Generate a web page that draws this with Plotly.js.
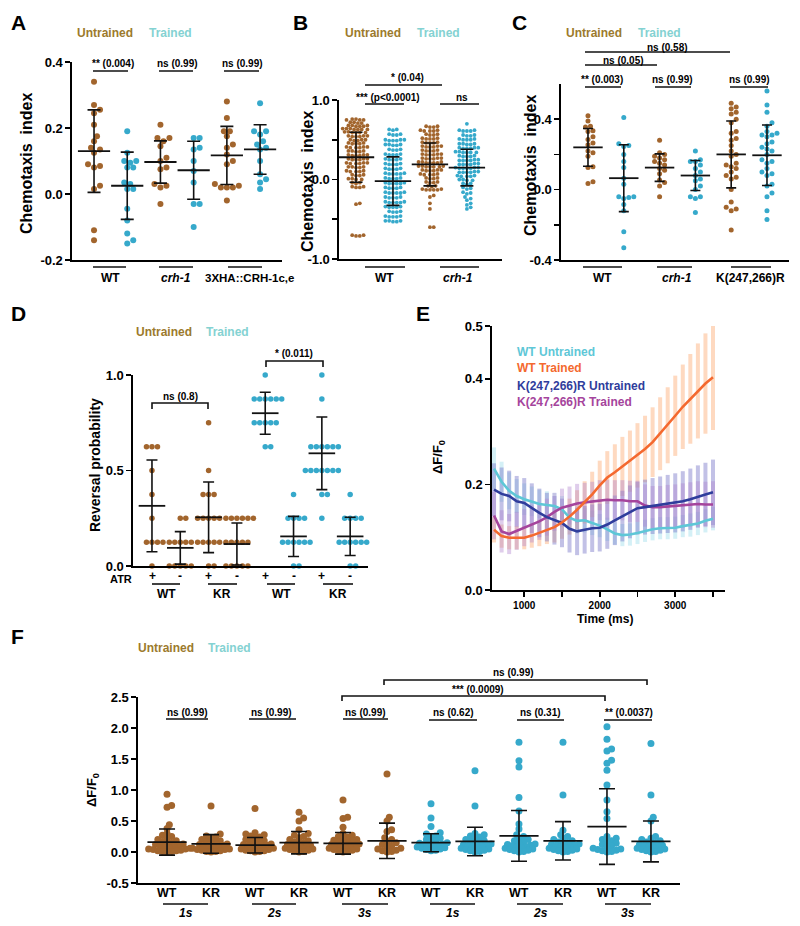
<!DOCTYPE html>
<html><head><meta charset="utf-8">
<script src="https://cdn.plot.ly/plotly-3.0.1.min.js"></script>
<style>html,body{margin:0;padding:0;background:#fff}#chart{width:800px;height:926px}</style>
</head><body><div id="chart"></div>
<script>
// ---------------- DATA ----------------
// Panel A: chemotaxis index
const A_labels = ['WT', 'crh-1', '3XHA::CRH-1c,e'];
const A_WT_U = [0.34,0.27,0.255,0.245,0.21,0.175,0.16,0.14,0.135,0.125,0.09,0.085,0.08,0.025,0.015,-0.11,-0.14];
const A_WT_T = [0.19,0.125,0.10,0.10,0.095,0.08,0.08,0.035,0.03,0.015,0.015,-0.045,-0.08,-0.12,-0.14,-0.15];
const A_CRH_U = [0.21,0.17,0.17,0.16,0.145,0.11,0.10,0.08,0.075,0.03,0.025,0.02,-0.03];
const A_CRH_T = [0.17,0.17,0.14,0.135,0.10,0.07,0.035,-0.03,-0.03,-0.10];
const A_3X_U = [0.28,0.23,0.19,0.19,0.175,0.15,0.14,0.12,0.10,0.09,0.03,0.025,0.02,0.02,0.02,-0.02];
const A_3X_T = [0.275,0.19,0.19,0.18,0.16,0.15,0.14,0.135,0.10,0.06,0.045,0.035,0.015];
const A_mean = [0.13,0.025,0.097,0.072,0.117,0.135];
const A_sd = [0.125,0.102,0.064,0.088,0.088,0.075];

// Panel B
const B_labels = ['WT', 'crh-1'];
const B_WT_U = [0.76,0.76,0.75,0.75,0.75,0.72,0.72,0.71,0.71,0.68,0.68,0.68,0.67,0.67,0.67,0.64,0.64,0.64,0.63,0.63,0.63,0.63,0.60,0.60,0.59,0.59,0.59,0.59,0.55,0.55,0.55,0.54,0.54,0.54,0.50,0.50,0.50,0.49,0.49,0.46,0.46,0.45,0.45,0.45,0.41,0.41,0.41,0.40,0.40,0.40,0.36,0.36,0.36,0.35,0.35,0.31,0.31,0.31,0.30,0.30,0.30,0.26,0.26,0.26,0.25,0.25,0.25,0.21,0.21,0.21,0.20,0.20,0.20,0.16,0.16,0.16,0.15,0.15,0.11,0.11,0.10,0.10,0.10,0.06,0.06,0.05,0.05,0.01,0.01,0.00,0.00,-0.04,-0.04,-0.05,-0.09,-0.09,-0.10,-0.10,-0.30,-0.31,-0.70,-0.70,-0.71,-0.71];
const B_WT_T = [0.63,0.63,0.62,0.57,0.57,0.56,0.56,0.50,0.50,0.50,0.49,0.49,0.49,0.44,0.44,0.44,0.43,0.43,0.38,0.38,0.37,0.37,0.32,0.32,0.31,0.31,0.31,0.26,0.26,0.25,0.25,0.25,0.20,0.20,0.19,0.19,0.19,0.14,0.14,0.13,0.13,0.13,0.08,0.08,0.07,0.07,0.07,0.07,0.02,0.02,0.01,0.01,0.01,-0.04,-0.04,-0.05,-0.05,-0.05,-0.05,-0.10,-0.10,-0.11,-0.11,-0.11,-0.16,-0.16,-0.17,-0.17,-0.17,-0.17,-0.22,-0.22,-0.23,-0.23,-0.23,-0.28,-0.28,-0.29,-0.29,-0.29,-0.29,-0.34,-0.34,-0.35,-0.35,-0.35,-0.40,-0.40,-0.41,-0.41,-0.46,-0.46,-0.47,-0.47,-0.47,-0.52,-0.52,-0.52,-0.53,-0.53];
const B_CRH_U = [0.67,0.67,0.66,0.66,0.62,0.62,0.61,0.61,0.61,0.57,0.57,0.56,0.56,0.52,0.52,0.51,0.51,0.51,0.47,0.47,0.46,0.46,0.46,0.42,0.42,0.42,0.41,0.41,0.41,0.37,0.37,0.36,0.36,0.36,0.32,0.32,0.32,0.31,0.31,0.31,0.27,0.27,0.27,0.26,0.26,0.26,0.22,0.22,0.22,0.21,0.21,0.21,0.21,0.17,0.17,0.17,0.16,0.16,0.16,0.16,0.12,0.12,0.12,0.11,0.11,0.11,0.07,0.07,0.06,0.06,0.06,0.02,0.02,0.01,0.01,-0.03,-0.03,-0.04,-0.04,-0.08,-0.08,-0.09,-0.12,-0.12,-0.13,-0.13,-0.13,-0.13,-0.20,-0.22,-0.30,-0.37,-0.60,-0.60];
const B_CRH_T = [0.70,0.62,0.62,0.61,0.61,0.61,0.56,0.56,0.55,0.55,0.51,0.51,0.50,0.50,0.50,0.45,0.45,0.45,0.44,0.44,0.40,0.40,0.40,0.39,0.39,0.39,0.35,0.35,0.34,0.34,0.34,0.34,0.30,0.30,0.29,0.29,0.29,0.25,0.25,0.24,0.24,0.24,0.24,0.20,0.20,0.19,0.19,0.19,0.19,0.15,0.15,0.15,0.14,0.14,0.14,0.14,0.10,0.10,0.09,0.09,0.09,0.09,0.05,0.05,0.04,0.04,0.04,0.00,0.00,-0.01,-0.01,-0.05,-0.05,-0.06,-0.10,-0.11,-0.12,-0.16,-0.17,-0.18,-0.22,-0.24,-0.26,-0.30,-0.32,-0.35,-0.37];
const B_mean = [0.28,-0.02,0.19,0.15];
const B_sd = [0.315,0.305,0.27,0.23];

// Panel C
const C_labels = ['WT', 'crh-1', 'K(247,266)R'];
const C_WT_U = [0.42,0.39,0.36,0.355,0.335,0.33,0.30,0.285,0.265,0.255,0.22,0.21,0.19,0.13,0.125,0.045,0.035];
const C_WT_T = [0.41,0.26,0.25,0.245,0.20,0.16,0.125,0.065,0.03,-0.04,-0.04,-0.045,-0.05,-0.085,-0.12,-0.24,-0.33];
const C_CRH_U = [0.28,0.21,0.20,0.19,0.18,0.17,0.16,0.15,0.14,0.12,0.11,0.09,0.055,0.04,0.02,-0.04];
const C_CRH_T = [0.22,0.17,0.16,0.16,0.14,0.12,0.10,0.08,0.06,0.05,0.02,0.00,-0.04,-0.04,-0.05,-0.13];
const C_K_U = [0.49,0.47,0.46,0.44,0.43,0.40,0.38,0.33,0.32,0.29,0.28,0.25,0.22,0.20,0.19,0.15,0.14,0.13,0.12,0.10,0.08,0.07,0.06,0.00,-0.07,-0.10,-0.11,-0.12,-0.23];
const C_K_T = [0.56,0.48,0.44,0.38,0.36,0.33,0.32,0.31,0.31,0.30,0.27,0.26,0.24,0.23,0.22,0.20,0.17,0.16,0.15,0.12,0.10,0.09,0.08,0.03,0.02,-0.02,-0.04,-0.12,-0.17];
const C_mean = [0.24,0.065,0.125,0.08,0.2,0.195];
const C_sd = [0.107,0.19,0.078,0.085,0.19,0.172];

// Panel D: reversal probability
const D_atr = ['+','-','+','-','+','-','+','-'];
const D_labels = ['WT','KR','WT','KR'];
const D_G1 = [0.625,0.625,0.625,0.5,0.375,0.25,0.125,0.125,0.125,0.125,0];
const D_G2 = [0.25,0.25,0.125,0.125,0.125,0.125,0.125,0,0,0,0,0];
const D_G3 = [0.75,0.5,0.375,0.375,0.375,0.25,0.25,0.25,0.25,0.25,0.125,0.125,0.125,0.125,0.125,0,0];
const D_G4 = [0.25,0.25,0.25,0.25,0.25,0.25,0.125,0.125,0.125,0.125,0.125,0,0,0,0,0];
const D_G5 = [1.0,0.875,0.875,0.875,0.875,0.875,0.875,0.75,0.75,0.75,0.75,0.75,0.625,0.625];
const D_G6 = [0.375,0.25,0.25,0.25,0.25,0.125,0.125,0.125,0.125,0.125,0.125,0,0];
const D_G7 = [1.0,0.875,0.625,0.625,0.625,0.625,0.625,0.625,0.5,0.5,0.5,0.5,0.5,0.5,0.5,0.375,0.375,0.25];
const D_G8 = [0.375,0.25,0.25,0.25,0.25,0.125,0.125,0.125,0.125,0.125,0.125,0,0];
const D_mean = [0.315,0.095,0.255,0.115,0.80,0.155,0.59,0.155];
const D_sd = [0.24,0.085,0.185,0.11,0.11,0.105,0.19,0.10];

// Panel E: dF/F0 time course
const E_time = [600,700,800,900,1000,1100,1200,1300,1400,1500,1600,1700,1800,1900,2000,2100,2200,2300,2400,2500,2600,2700,2800,2900,3000,3100,3200,3300,3400,3500];
const E_WT_U = [0.230,0.205,0.188,0.178,0.172,0.168,0.163,0.161,0.159,0.153,0.137,0.131,0.132,0.127,0.122,0.115,0.107,0.104,0.105,0.108,0.112,0.115,0.117,0.117,0.118,0.121,0.123,0.126,0.131,0.135];
const E_WT_T = [0.114,0.102,0.099,0.099,0.099,0.103,0.108,0.114,0.119,0.128,0.139,0.152,0.166,0.181,0.198,0.213,0.223,0.234,0.244,0.255,0.267,0.280,0.296,0.312,0.330,0.347,0.362,0.377,0.391,0.403];
const E_K_U = [0.190,0.182,0.178,0.168,0.165,0.155,0.146,0.138,0.132,0.127,0.116,0.111,0.114,0.117,0.118,0.124,0.132,0.140,0.148,0.155,0.157,0.159,0.161,0.163,0.165,0.168,0.172,0.177,0.181,0.185];
const E_K_T = [0.141,0.111,0.106,0.112,0.118,0.125,0.130,0.138,0.148,0.156,0.160,0.164,0.166,0.168,0.170,0.171,0.170,0.170,0.168,0.168,0.160,0.157,0.157,0.158,0.159,0.160,0.162,0.163,0.162,0.162];
const E_WT_U_err = [0.040,0.038,0.035,0.032,0.030,0.028,0.027,0.026,0.025,0.025,0.024,0.024,0.023,0.023,0.022,0.022,0.021,0.021,0.021,0.021,0.021,0.021,0.021,0.021,0.021,0.021,0.022,0.022,0.022,0.022];
const E_WT_T_err = [0.024,0.022,0.022,0.022,0.022,0.023,0.025,0.027,0.029,0.031,0.034,0.037,0.040,0.043,0.047,0.050,0.053,0.056,0.058,0.061,0.063,0.066,0.069,0.072,0.076,0.080,0.085,0.090,0.095,0.100];
const E_K_U_err = [0.050,0.050,0.048,0.048,0.047,0.047,0.046,0.046,0.046,0.046,0.045,0.045,0.045,0.045,0.045,0.046,0.047,0.048,0.050,0.050,0.052,0.053,0.054,0.055,0.056,0.057,0.058,0.059,0.060,0.062];
const E_K_T_err = [0.045,0.040,0.038,0.036,0.035,0.035,0.035,0.035,0.036,0.036,0.036,0.037,0.037,0.037,0.038,0.038,0.038,0.038,0.039,0.039,0.040,0.040,0.040,0.041,0.041,0.042,0.042,0.043,0.043,0.044];
const E_names = ['WT Untrained','WT Trained','K(247,266)R Untrained','K(247,266)R Trained'];

// Panel F: dF/F0 per stimulus duration
const F_geno = ['WT','KR','WT','KR','WT','KR','WT','KR','WT','KR','WT','KR'];
const F_dur = ['1s','2s','3s','1s','2s','3s'];
const F_U_WT1 = [0.93,0.75,0.72,0.44,0.38,0.30,0.27,0.25,0.22,0.20,0.18,0.17,0.15,0.14,0.13,0.12,0.11,0.10,0.09,0.08,0.07,0.06,0.05,0.05,0.04,0.03,0.02,0.02,0.01,0.01,0.00];
const F_U_KR1 = [0.74,0.29,0.26,0.24,0.22,0.20,0.18,0.16,0.15,0.14,0.13,0.12,0.11,0.10,0.09,0.08,0.07,0.06,0.05,0.04,0.04,0.03,0.02,0.01,0.01,0.00];
const F_U_WT2 = [0.70,0.31,0.29,0.28,0.26,0.24,0.22,0.20,0.18,0.16,0.15,0.14,0.13,0.12,0.11,0.10,0.09,0.08,0.07,0.06,0.05,0.04,0.03,0.02,0.02,0.01,0.00];
const F_U_KR2 = [0.64,0.55,0.50,0.36,0.30,0.27,0.25,0.23,0.20,0.18,0.16,0.15,0.14,0.12,0.11,0.10,0.09,0.08,0.07,0.06,0.05,0.04,0.03,0.02,0.01,0.00];
const F_U_WT3 = [0.84,0.56,0.54,0.40,0.30,0.27,0.25,0.24,0.22,0.20,0.19,0.18,0.16,0.15,0.14,0.13,0.12,0.11,0.10,0.09,0.08,0.07,0.06,0.05,0.04,0.03,0.02,0.01,0.00];
const F_U_KR3 = [1.26,0.56,0.50,0.36,0.33,0.23,0.20,0.17,0.15,0.12,0.10,0.08,0.06,0.05,0.03,0.02,0.01,0.00];
const F_T_WT1 = [0.78,0.55,0.41,0.31,0.29,0.26,0.24,0.22,0.20,0.18,0.16,0.15,0.14,0.13,0.12,0.11,0.10,0.09,0.08,0.07,0.06,0.05,0.04,0.03,0.02];
const F_T_KR1 = [1.31,0.74,0.30,0.28,0.26,0.24,0.22,0.20,0.18,0.16,0.15,0.14,0.13,0.12,0.11,0.10,0.09,0.08,0.07,0.06,0.05,0.04,0.03,0.02,0.01,0.00];
const F_T_WT2 = [1.77,1.47,1.37,0.88,0.66,0.45,0.37,0.28,0.25,0.22,0.20,0.18,0.16,0.14,0.13,0.12,0.11,0.10,0.09,0.08,0.07,0.06,0.05,0.04,0.03,0.02,0.01,0.00];
const F_T_KR2 = [1.77,0.92,0.35,0.28,0.25,0.22,0.20,0.18,0.16,0.15,0.14,0.13,0.12,0.11,0.10,0.09,0.08,0.07,0.06,0.05,0.04,0.03,0.02,0.01,0.00];
const F_T_WT3 = [2.02,1.82,1.66,1.63,1.48,1.43,1.32,1.08,0.84,0.65,0.54,0.25,0.22,0.20,0.18,0.16,0.14,0.12,0.10,0.08,0.06,0.05,0.04,0.03,0.02,0.01,0.00];
const F_T_KR3 = [1.75,0.92,0.56,0.50,0.25,0.22,0.20,0.18,0.16,0.15,0.14,0.12,0.11,0.10,0.09,0.08,0.07,0.06,0.05,0.04,0.03,0.02,0.01,0.00];
const F_mean = [0.16,0.13,0.11,0.15,0.14,0.18,0.15,0.17,0.26,0.18,0.41,0.17];
const F_sd = [0.21,0.15,0.125,0.18,0.175,0.285,0.145,0.23,0.41,0.31,0.61,0.33];

// ---------------- STYLE / LAYOUT ----------------
const W = 800, H = 926;
const FONT = 'Arial, "Liberation Sans", Helvetica, sans-serif';
const BROWN = '#a2652d', BLUE = '#36a9cb';
const LEG_U = '#9c7a2d', LEG_T = '#84d2d2';
const px = x => x / W, py = y => 1 - y / H;

// panel boxes in pixels
const P = {
  A: {n: '',  x0: 72,  x1: 282, y0: 62,  y1: 260, xr: [-0.663, 5.66], yr: [-0.2, 0.4]},
  B: {n: '2', x0: 339, x1: 502, y0: 100, y1: 259, xr: [-0.46, 3.95], yr: [-1, 1]},
  C: {n: '3', x0: 561, x1: 789, y0: 84,  y1: 260, xr: [-0.754, 5.615], yr: [-0.4, 0.6]},
  D: {n: '4', x0: 133, x1: 368, y0: 375, y1: 566, xr: [-0.67, 7.63], yr: [0, 1]},
  E: {n: '5', x0: 492, x1: 725, y0: 326, y1: 590, xr: [573, 3659], yr: [0, 0.5]},
  F: {n: '6', x0: 138, x1: 680, y0: 697, y1: 883, xr: [-0.66, 11.66], yr: [-0.5, 2.5]}
};

// beeswarm offsets (pixels); 'coll' is the collision distance in px
function swarmOffsets(vals, coll, yppu) {
  const idx = vals.map((v, i) => i).sort((a, b) => vals[a] - vals[b]);
  const placed = []; const off = new Array(vals.length).fill(0);
  const step = coll * 0.5;
  idx.forEach(i => {
    const yp = vals[i] * yppu;
    const near = placed.filter(p => Math.abs(p.y - yp) < coll);
    let best = 0;
    for (let n = 0; n < 400; n++) {
      const cand = n === 0 ? 0 : (n % 2 === 1 ? Math.ceil(n / 2) * step : -Math.ceil(n / 2) * step);
      let ok = true;
      for (const p of near) { const dx = p.x - cand, dy = p.y - yp; if (dx * dx + dy * dy < coll * coll * 0.9) { ok = false; break; } }
      if (ok) { best = cand; break; }
    }
    placed.push({x: best, y: yp}); off[i] = best;
  });
  return off;
}

const traces = [];
function dotPanel(p, groups, colors, means, sds, diam, coll, meanLen, capW) {
  const xppu = (p.x1 - p.x0) / (p.xr[1] - p.xr[0]);
  const yppu = (p.y1 - p.y0) / (p.yr[1] - p.yr[0]);
  const xs = [], ys = [], cs = [];
  groups.forEach((vals, gi) => {
    const offs = swarmOffsets(vals, coll, yppu);
    vals.forEach((v, j) => { xs.push(gi + offs[j] / xppu); ys.push(v); cs.push(colors[gi]); });
  });
  traces.push({type: 'scatter', mode: 'markers', x: xs, y: ys, xaxis: 'x' + p.n, yaxis: 'y' + p.n,
    marker: {color: cs, size: diam, line: {width: 0}}, cliponaxis: false, hoverinfo: 'skip'});
  traces.push({type: 'scatter', mode: 'markers', x: means.map((m, i) => i), y: means, xaxis: 'x' + p.n, yaxis: 'y' + p.n,
    error_y: {type: 'data', array: sds, color: '#111', thickness: 1.6, width: capW},
    marker: {symbol: 'line-ew', size: meanLen, color: '#111', line: {color: '#111', width: 1.8}},
    cliponaxis: false, hoverinfo: 'skip'});
}

const UT = (k) => Array.from({length: k}, (_, i) => i % 2 === 0 ? BROWN : BLUE);
dotPanel(P.A, [A_WT_U, A_WT_T, A_CRH_U, A_CRH_T, A_3X_U, A_3X_T], UT(6), A_mean, A_sd, 6, 6, 23, 6.5);
dotPanel(P.B, [B_WT_U, B_WT_T, B_CRH_U, B_CRH_T], UT(4), B_mean, B_sd, 3.8, 3.8, 26, 6.5);
dotPanel(P.C, [C_WT_U, C_WT_T, C_CRH_U, C_CRH_T, C_K_U, C_K_T], UT(6), C_mean, C_sd, 5, 5, 21, 5);
dotPanel(P.D, [D_G1, D_G2, D_G3, D_G4, D_G5, D_G6, D_G7, D_G8],
  [BROWN, BROWN, BROWN, BROWN, BLUE, BLUE, BLUE, BLUE], D_mean, D_sd, 5.5, 5.5, 19, 5.5);
dotPanel(P.F, [F_U_WT1, F_U_KR1, F_U_WT2, F_U_KR2, F_U_WT3, F_U_KR3, F_T_WT1, F_T_KR1, F_T_WT2, F_T_KR2, F_T_WT3, F_T_KR3],
  [BROWN, BROWN, BROWN, BROWN, BROWN, BROWN, BLUE, BLUE, BLUE, BLUE, BLUE, BLUE], F_mean, F_sd, 7, 4.6, 28, 8);

// Panel E
const E_series = [E_WT_U, E_WT_T, E_K_U, E_K_T];
const E_errs = [E_WT_U_err, E_WT_T_err, E_K_U_err, E_K_T_err];
const E_line = ['#5ec7d7', '#f4692f', '#2f3d9c', '#a5449c'];
const E_band = ['rgba(160,222,236,0.45)', 'rgba(253,192,150,0.6)', 'rgba(120,118,200,0.45)', 'rgba(175,130,205,0.4)'];
E_series.forEach((s, i) => traces.push({type: 'scatter', mode: 'markers', x: E_time, y: s, xaxis: 'x5', yaxis: 'y5',
  marker: {size: 1, opacity: 0}, error_y: {type: 'data', array: E_errs[i], color: E_band[i], thickness: 4, width: 0}, hoverinfo: 'skip', cliponaxis: false}));
[0, 3, 2, 1].forEach(i => traces.push({type: 'scatter', mode: 'lines', x: E_time, y: E_series[i], xaxis: 'x5', yaxis: 'y5',
  line: {color: E_line[i], width: 2.6}, hoverinfo: 'skip', name: E_names[i]}));

function xAx(p, extra) {
  return Object.assign({domain: [px(p.x0), px(p.x1)], range: p.xr, anchor: 'y' + p.n, showline: true, linecolor: '#000', linewidth: 1.6,
    ticks: '', showticklabels: false, showgrid: false, zeroline: false, fixedrange: true}, extra || {});
}
function yAx(p, extra) {
  return Object.assign({domain: [py(p.y1), py(p.y0)], range: p.yr, anchor: 'x' + p.n, showline: true, linecolor: '#000', linewidth: 1.6,
    ticks: 'outside', ticklen: 5, tickwidth: 1.6, tickcolor: '#000', showgrid: false, zeroline: false, fixedrange: true,
    tickfont: {family: FONT, size: 13, color: '#000', weight: 'bold'}}, extra || {});
}

const layout = {
  width: W, height: H, margin: {l: 0, r: 0, t: 0, b: 0}, paper_bgcolor: '#fff', plot_bgcolor: 'rgba(0,0,0,0)',
  showlegend: false, font: {family: FONT, color: '#000'},
  xaxis: xAx(P.A), yaxis: yAx(P.A, {tickvals: [-0.2, 0, 0.2, 0.4], ticktext: ['-0.2', '0.0', '0.2', '0.4']}),
  xaxis2: xAx(P.B), yaxis2: yAx(P.B, {tickvals: [-1, -0.5, 0, 0.5, 1], ticktext: ['-1.0', ' ', '0.0', ' ', '1.0']}),
  xaxis3: xAx(P.C), yaxis3: yAx(P.C, {tickvals: [-0.4, -0.2, 0, 0.2, 0.4], ticktext: ['-0.4', ' ', '0.0', ' ', '0.4']}),
  xaxis4: xAx(P.D), yaxis4: yAx(P.D, {tickvals: [0, 0.5, 1], ticktext: ['0.0', '0.5', '1.0']}),
  xaxis5: xAx(P.E, {ticks: 'outside', ticklen: 5, tickwidth: 1.6, tickcolor: '#000', showticklabels: true,
    tickvals: [1000, 1500, 2000, 2500, 3000, 3500], ticktext: ['1000', ' ', '2000', ' ', '3000', ' '],
    tickfont: {family: FONT, size: 10, color: '#000', weight: 'bold'}}),
  yaxis5: yAx(P.E, {tickvals: [0, 0.2, 0.4, 0.5], ticktext: ['0.0', '0.2', '0.4', '0.5']}),
  xaxis6: xAx(P.F), yaxis6: yAx(P.F, {tickvals: [-0.5, 0, 0.5, 1, 1.5, 2, 2.5], ticktext: ['-0.5', '0.0', '0.5', '1.0', '1.5', '2.0', '2.5']}),
  annotations: [], shapes: []
};

const ann = layout.annotations, shp = layout.shapes;
function txt(x, y, text, size, opts) {
  ann.push(Object.assign({xref: 'paper', yref: 'paper', x: px(x), y: py(y), text: text, showarrow: false,
    xanchor: 'center', yanchor: 'middle', font: {family: FONT, size: size, color: '#000', weight: 'bold'}}, opts || {}));
}
function colTxt(x, y, text, size, color, opts) {
  txt(x, y, text, size, Object.assign({font: {family: FONT, size: size, color: color, weight: 'bold'}}, opts || {}));
}
function hl(x0, x1, y, w) {
  shp.push({type: 'line', xref: 'paper', yref: 'paper', x0: px(x0), x1: px(x1), y0: py(y), y1: py(y), line: {color: '#111', width: w || 1.6}});
}
function bracket(x0, x1, y, drop) {
  shp.push({type: 'path', xref: 'paper', yref: 'paper',
    path: `M ${px(x0)} ${py(y + drop)} L ${px(x0)} ${py(y)} L ${px(x1)} ${py(y)} L ${px(x1)} ${py(y + drop)}`,
    line: {color: '#111', width: 1.6}});
}

// panel letters
[['A', 18, 22], ['B', 300, 22], ['C', 519, 22], ['D', 18, 313], ['E', 423, 313], ['F', 17, 636]].forEach(l => txt(l[1], l[2], l[0], 21));
// legends
[[105, 170, 33], [373, 438, 33], [594, 659, 33], [164, 228, 332], [166, 230, 648]].forEach(l => {
  colTxt(l[0], l[2], 'Untrained', 12, LEG_U); colTxt(l[1], l[2], 'Trained', 12, LEG_T);
});
// y titles
txt(27, 164, 'Chemotaxis  index', 16, {textangle: -90});
txt(308, 182, 'Chemotaxis  index', 16, {textangle: -90});
txt(530, 166, 'Chemotaxis  index', 16, {textangle: -90});
txt(95, 465, 'Reversal probability', 14, {textangle: -90});
txt(438, 457, 'ΔF/F<sub>0</sub>', 13, {textangle: -90});
txt(92, 790, 'ΔF/F<sub>0</sub>', 13, {textangle: -90});
txt(605, 619, 'Time (ms)', 12);

// Panel A group labels & sig
hl(93, 126, 267); hl(159, 193, 267); hl(228, 262, 267);
txt(110, 278, A_labels[0], 12); txt(176, 278, '<i>' + A_labels[1] + '</i>', 12); txt(249, 278, A_labels[2], 11.5);
hl(93, 128, 71); hl(159, 193, 71); hl(224, 259, 71);
txt(113, 64, '** (0.004)', 10); txt(177, 64, 'ns (0.99)', 10); txt(242, 64, 'ns (0.99)', 10);

// Panel B
hl(365, 405, 267); hl(440, 479, 267);
txt(384, 278, B_labels[0], 12); txt(458, 278, '<i>' + B_labels[1] + '</i>', 12);
hl(365, 404, 104); hl(440, 479, 104); hl(365, 442, 85);
txt(388, 97, '*** (p<0.0001)', 10); txt(462, 97, 'ns', 10); txt(407, 78, '* (0.04)', 10);

// Panel C
hl(583, 622, 267); hl(657, 692, 267); hl(731, 771, 267);
txt(602, 278, C_labels[0], 12); txt(677, 278, '<i>' + C_labels[1] + '</i>', 12); txt(750, 278, C_labels[2], 12);
hl(585, 730, 52); hl(585, 657, 65); hl(585, 621, 87); hl(655, 691, 87); hl(730, 768, 87);
txt(667, 47, 'ns (0.58)', 10); txt(623, 60, 'ns (0.05)', 10); txt(602, 79, '** (0.003)', 10);
txt(672, 79, 'ns (0.99)', 10); txt(749, 79, 'ns (0.99)', 10);

// Panel D
const dX = i => 152 + i * 28.3;
txt(121, 579, 'ATR', 11);
D_atr.forEach((s, i) => txt(dX(i), 576, s, 12));
hl(152, 180, 584); hl(208, 237, 584); hl(267, 295, 584); hl(323, 353, 584);
[166, 222, 281, 338].forEach((x, i) => txt(x, 594, D_labels[i], 12));
bracket(152, 208, 403, 6); txt(180, 396, 'ns (0.8)', 10);
bracket(266, 323, 361, 6); txt(294, 353, '* (0.011)', 10);

// Panel E legend
E_names.forEach((n, i) => colTxt(515, [352, 368, 386, 402][i], n, 12, E_line[i], {xanchor: 'left'}));

// Panel F
const fX = i => 167 + i * 44;
F_geno.forEach((g, i) => txt(fX(i), 893, g, 12.5));
[[163, 208], [252, 296], [342, 388], [430, 475], [517, 563], [605, 651]].forEach((s, i) => {
  hl(s[0], s[1], 904); txt((s[0] + s[1]) / 2, 913, '<i>' + F_dur[i] + '</i>', 12);
});
hl(166, 208, 719); hl(249, 296, 719); hl(343, 388, 719);
txt(187, 712, 'ns (0.99)', 10); txt(271, 712, 'ns (0.99)', 10); txt(365, 712, 'ns (0.99)', 10);
hl(429, 477, 720); hl(517, 564, 720); hl(604, 652, 720);
txt(453, 712, 'ns (0.62)', 10); txt(540, 712, 'ns (0.31)', 10); txt(629, 712, '** (0.0037)', 10);
bracket(342, 605, 696, 5); txt(478, 689, '*** (0.0009)', 10);
bracket(384, 647, 680, 5); txt(513, 672, 'ns (0.99)', 10);

Plotly.newPlot('chart', traces, layout, {staticPlot: true});
</script></body></html>
